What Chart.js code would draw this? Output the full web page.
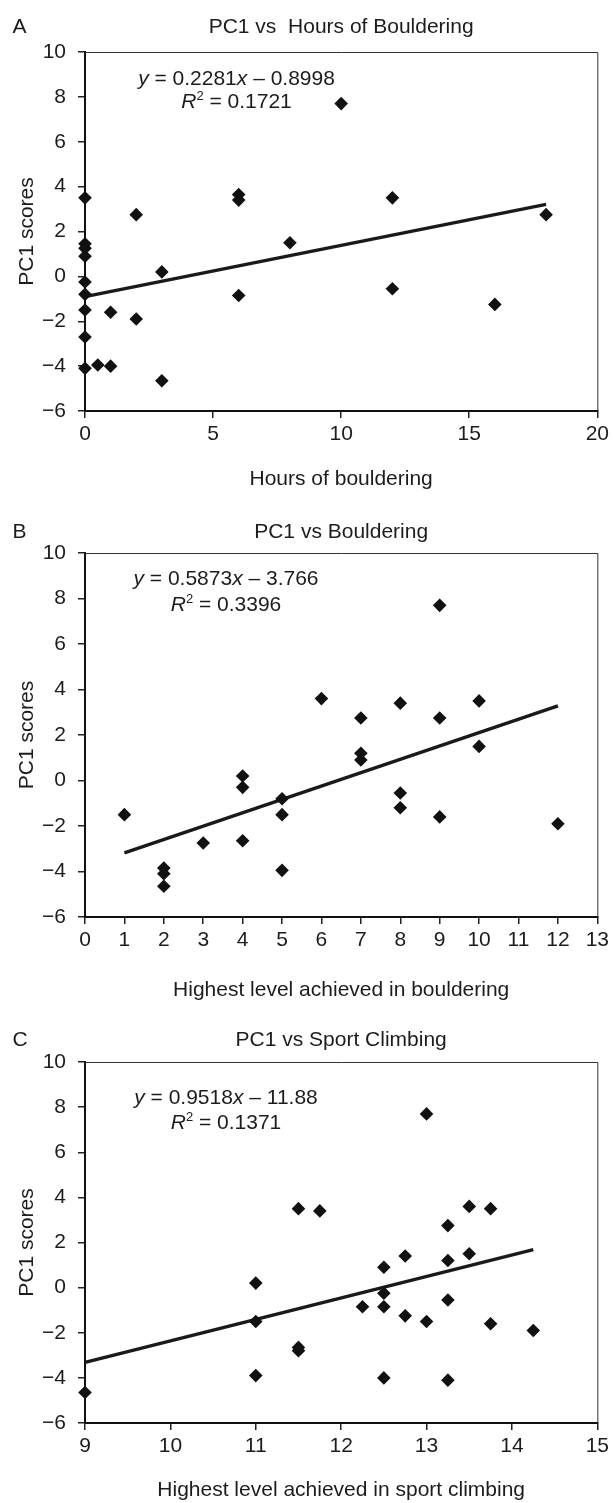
<!DOCTYPE html>
<html>
<head>
<meta charset="utf-8">
<script src="https://cdn.jsdelivr.net/npm/chart.js@4/dist/chart.umd.min.js"></script>
<style>
  html, body { margin: 0; padding: 0; background: #fff; }
  body { width: 613px; height: 1503px; position: relative; overflow: hidden; }
  canvas { position: absolute; left: 0; }
</style>
</head>
<body>
<canvas id="cA" width="613" height="500" style="top:0px"></canvas>
<canvas id="cB" width="613" height="510" style="top:500px"></canvas>
<canvas id="cC" width="613" height="493" style="top:1010px"></canvas>
<script>
// ---------- Panel A: PC1 vs hours of bouldering ----------
const hoursX = [0, 0, 0, 0, 0, 0, 0, 0, 0, 0.5, 1, 1, 2, 2, 3, 3, 6, 6, 6, 8, 10, 12, 12, 16, 18];
const hoursY = [3.5, 1.45, 1.25, 0.9, -0.25, -0.8, -1.5, -2.7, -4.1, -3.95, -4.0, -1.6, 2.75, -1.9, 0.2, -4.65, 3.65, 3.4, -0.85, 1.5, 7.7, 3.5, -0.55, -1.25, 2.75];

// ---------- Panel B: PC1 vs highest bouldering level ----------
const boulderX = [1, 2, 2, 2, 3, 4, 4, 4, 5, 5, 5, 6, 7, 7, 7, 8, 8, 8, 9, 9, 9, 10, 10, 12];
const boulderY = [-1.5, -3.85, -4.1, -4.65, -2.75, 0.2, -0.3, -2.65, -0.8, -1.5, -3.95, 3.6, 2.75, 1.2, 0.9, 3.4, -0.55, -1.2, 7.7, 2.75, -1.6, 3.5, 1.5, -1.9];

// ---------- Panel C: PC1 vs highest sport climbing level ----------
const sportX = [9, 11, 11, 11, 11.5, 11.5, 11.5, 11.75, 12.25, 12.5, 12.5, 12.5, 12.5, 12.75, 12.75, 13, 13, 13.25, 13.25, 13.25, 13.25, 13.5, 13.5, 13.75, 13.75, 14.25];
const sportY = [-4.65, 0.2, -1.5, -3.9, 3.5, -2.65, -2.8, 3.4, -0.85, 0.9, -0.25, -0.85, -4.0, 1.4, -1.25, 7.7, -1.5, 2.75, 1.2, -0.55, -4.1, 3.6, 1.5, 3.5, -1.6, -1.9];

// regression lines as printed on the chart
const slopes = [0.2281, 0.5873, 0.9518];
const intercepts = [-0.8998, -3.766, -11.88];
const slopeText = ['0.2281', '0.5873', '0.9518'];
const interceptText = ['0.8998', '3.766', '11.88'];
const r2Text = ['0.1721', '0.3396', '0.1371'];
const trendFrom = [0, 1, 9];
const trendTo = [18, 12, 14.25];

// axes
const xMin = [0, 0, 9];
const xMax = [20, 13, 15];
const xStep = [5, 1, 1];
const yMin = -6, yMax = 10, yStep = 2;

const letters = ['A', 'B', 'C'];
const titles = ['PC1 vs  Hours of Bouldering', 'PC1 vs Bouldering', 'PC1 vs Sport Climbing'];
const xTitles = ['Hours of bouldering', 'Highest level achieved in bouldering', 'Highest level achieved in sport climbing'];
const yTitle = 'PC1 scores';

const FONT = '"Liberation Sans", Arial, Helvetica, sans-serif';
const FS = 21;
const INK = '#1c1c1c';

// layout (pixels inside each canvas)
const layouts = [
  { h: 500, top: 52, bottom: 411, titleBase: 32.5, xTitleBase: 484.5, eqCx: 236.5, eqBase: 84.5, r2Base: 108 },
  { h: 510, top: 53, bottom: 417, titleBase: 37.5, xTitleBase: 495.5, eqCx: 226, eqBase: 85.2, r2Base: 110.5 },
  { h: 493, top: 52, bottom: 413, titleBase: 35.5, xTitleBase: 485.5, eqCx: 226, eqBase: 93.5, r2Base: 119.2 }
];
const PLOT_LEFT = 85, PLOT_RIGHT = 601;

function fmtTick(v) { return v < 0 ? '\u2212' + Math.abs(v) : String(v); }

function drawSegments(ctx, segs, cx, base) {
  const widths = segs.map(s => {
    ctx.font = (s.i ? 'italic ' : '') + (s.sup ? 13 : FS) + 'px ' + FONT;
    return ctx.measureText(s.t).width;
  });
  let x = cx - widths.reduce((a, b) => a + b, 0) / 2;
  segs.forEach((s, k) => {
    ctx.font = (s.i ? 'italic ' : '') + (s.sup ? 13 : FS) + 'px ' + FONT;
    ctx.textAlign = 'left';
    ctx.textBaseline = 'alphabetic';
    ctx.fillText(s.t, x, s.sup ? base - 8 : base);
    x += widths[k];
  });
}

function makeDeco(i) {
  const L = layouts[i];
  return {
    id: 'deco' + i,
    beforeDatasetsDraw(chart) {
      const ctx = chart.ctx, a = chart.chartArea;
      ctx.save();
      ctx.strokeStyle = '#333';
      ctx.lineWidth = 1;
      ctx.beginPath();
      ctx.moveTo(a.left, a.top + 0.5);
      ctx.lineTo(a.right + 0.5, a.top + 0.5);
      ctx.lineTo(a.right + 0.5, a.bottom);
      ctx.stroke();
      ctx.restore();
    },
    afterDraw(chart) {
      const ctx = chart.ctx, a = chart.chartArea;
      ctx.save();
      ctx.fillStyle = INK;
      ctx.font = FS + 'px ' + FONT;
      ctx.textBaseline = 'alphabetic';
      // panel letter
      ctx.textAlign = 'left';
      ctx.fillText(letters[i], 12.5, L.titleBase);
      // title
      const cx = (a.left + a.right) / 2;
      ctx.textAlign = 'center';
      ctx.fillText(titles[i], cx, L.titleBase);
      // x title
      ctx.fillText(xTitles[i], cx, L.xTitleBase);
      // y title
      ctx.save();
      ctx.translate(33, (a.top + a.bottom) / 2);
      ctx.rotate(-Math.PI / 2);
      ctx.fillText(yTitle, 0, 0);
      ctx.restore();
      // equation
      drawSegments(ctx, [
        { t: 'y', i: true },
        { t: ' = ' + slopeText[i] },
        { t: 'x', i: true },
        { t: ' \u2013 ' + interceptText[i] }
      ], L.eqCx, L.eqBase);
      drawSegments(ctx, [
        { t: 'R', i: true },
        { t: '2', sup: true },
        { t: ' = ' + r2Text[i] }
      ], L.eqCx, L.r2Base);
      ctx.restore();
    }
  };
}

function makeChart(id, i, xs, ys) {
  const L = layouts[i];
  const pts = xs.map((x, k) => ({ x: x, y: ys[k] }));
  const trend = [trendFrom[i], trendTo[i]].map(x => ({ x: x, y: slopes[i] * x + intercepts[i] }));
  return new Chart(document.getElementById(id), {
    type: 'scatter',
    data: {
      datasets: [
        {
          data: pts,
          pointStyle: 'rectRot',
          pointRadius: 6.8,
          pointHoverRadius: 6.8,
          backgroundColor: '#111',
          borderColor: '#111',
          borderWidth: 0,
          clip: false
        },
        {
          data: trend,
          showLine: true,
          borderColor: '#1a1a1a',
          borderWidth: 3.4,
          pointRadius: 0,
          pointHoverRadius: 0,
          fill: false,
          clip: false
        }
      ]
    },
    options: {
      responsive: false,
      animation: false,
      devicePixelRatio: 1,
      events: [],
      layout: { padding: { top: L.top, right: 613 - PLOT_RIGHT, bottom: 0, left: 0 } },
      plugins: { legend: { display: false }, tooltip: { enabled: false }, title: { display: false } },
      scales: {
        x: {
          type: 'linear',
          min: xMin[i], max: xMax[i],
          afterFit(scale) { scale.height = L.h - L.bottom; },
          afterBuildTicks(scale) {
            const t = [];
            for (let v = xMin[i]; v <= xMax[i] + 1e-9; v += xStep[i]) t.push({ value: v });
            scale.ticks = t;
          },
          border: { display: true, color: '#111', width: 2 },
          grid: { display: true, drawOnChartArea: false, drawTicks: true, tickLength: 7, color: '#222', lineWidth: 1.5 },
          ticks: { color: INK, font: { family: FONT, size: FS }, padding: 4, maxRotation: 0, autoSkip: false, callback: fmtTick }
        },
        y: {
          type: 'linear',
          min: yMin, max: yMax,
          afterFit(scale) { scale.width = PLOT_LEFT; },
          afterBuildTicks(scale) {
            const t = [];
            for (let v = yMin; v <= yMax + 1e-9; v += yStep) t.push({ value: v });
            scale.ticks = t;
          },
          border: { display: true, color: '#111', width: 2 },
          grid: { display: true, drawOnChartArea: false, drawTicks: true, tickLength: 7, color: '#222', lineWidth: 1.5 },
          ticks: { color: INK, font: { family: FONT, size: FS }, padding: 12, autoSkip: false, callback: fmtTick }
        }
      }
    },
    plugins: [makeDeco(i)]
  });
}

makeChart('cA', 0, hoursX, hoursY);
makeChart('cB', 1, boulderX, boulderY);
makeChart('cC', 2, sportX, sportY);
</script>
</body>
</html>
